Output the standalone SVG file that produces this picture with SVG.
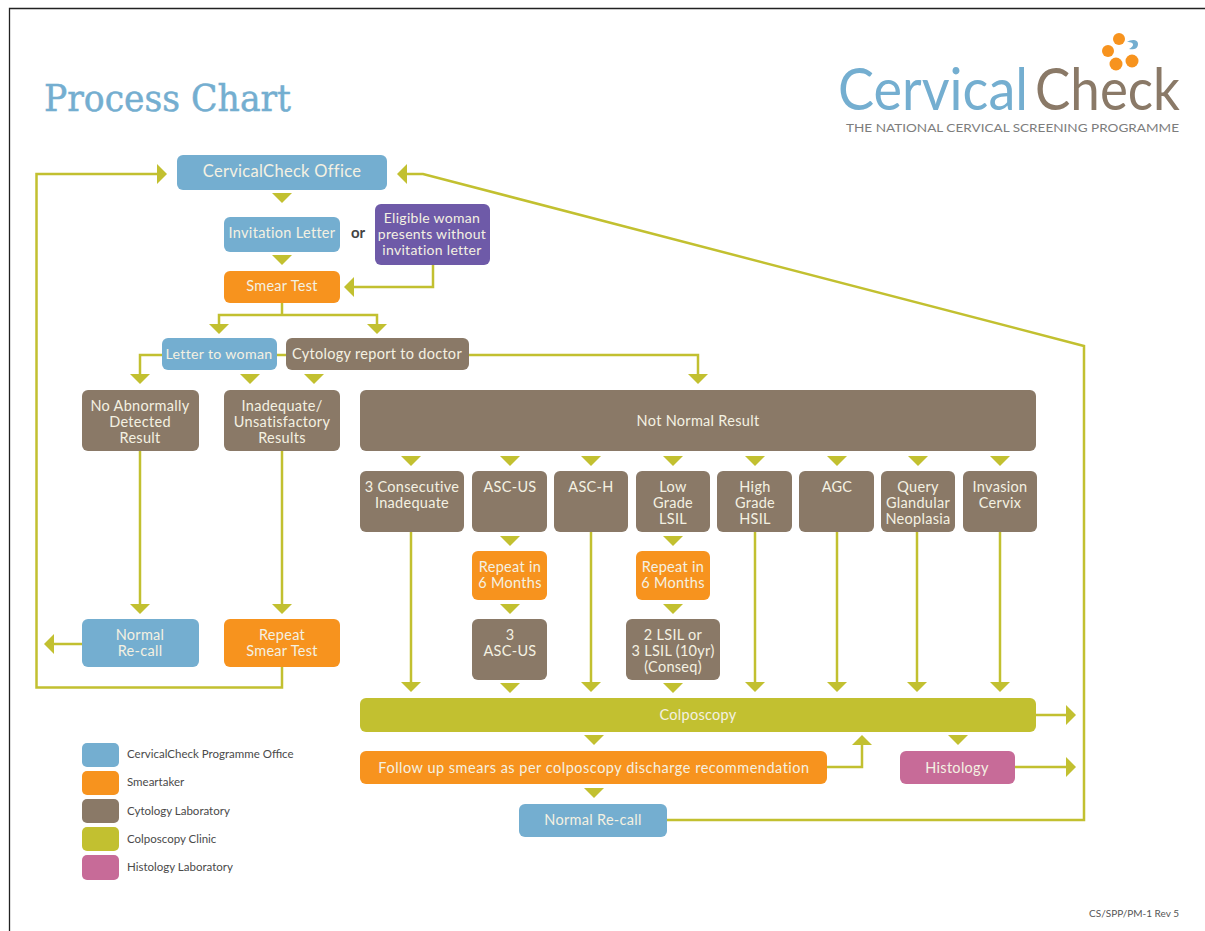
<svg xmlns="http://www.w3.org/2000/svg" width="1205" height="931" viewBox="0 0 1205 931">
<style>
text{font-family:Lato,"Open Sans","Liberation Sans",sans-serif}
.n text{fill:#f4f1e2;font-size:14.500px;text-anchor:middle;letter-spacing:.3px}
.blue{fill:#74aed0}.org{fill:#f7931e}.brn{fill:#8a7967}.grn{fill:#c2c030}.pnk{fill:#c76b98}.pur{fill:#6e5aa8}
.c{fill:none;stroke:#c2c030;stroke-width:2.5}
.h{fill:#c2c030}
.lg{font-size:11.500px;fill:#4a4a4a}
</style>
<defs>
<path id="t" class="h" d="M-10 0H10L0 10Z"/>
<marker id="a" markerUnits="userSpaceOnUse" markerWidth="10" markerHeight="20" refX="6" refY="10" orient="auto" viewBox="0 0 10 20"><path class="h" d="M0 0L10 10L0 20Z"/></marker>
</defs>
<rect width="1205" height="931" fill="#fff"/>
<path d="M9.500 931V8.500H1205" fill="none" stroke="#222" stroke-width="1.300"/>
<g id="header">
<text x="44" y="111" font-size="37" fill="#74aed0" stroke="#74aed0" stroke-width=".5" textLength="247" lengthAdjust="spacingAndGlyphs" style="font-family:'DejaVu Serif','Liberation Serif',serif">Process Chart</text>
</g>
<g id="logo">
<text x="838" y="110" font-size="58" fill="#74aed0" textLength="190" lengthAdjust="spacingAndGlyphs">Cervical</text>
<text x="1035" y="110" font-size="58" fill="#8a7967" textLength="145" lengthAdjust="spacingAndGlyphs">Check</text>
<text x="846" y="132" font-size="11.500" fill="#7d7d7d" textLength="333" lengthAdjust="spacingAndGlyphs">THE NATIONAL CERVICAL SCREENING PROGRAMME</text>
<g fill="#f7931e"><circle cx="1119" cy="39" r="6"/><circle cx="1108" cy="51" r="6"/><circle cx="1116" cy="64" r="6.500"/><circle cx="1132" cy="61" r="6.500"/></g>
<path d="M1127 42C1131 39 1138 39 1138 44C1138 49 1133 50 1129 49C1133 47 1134 44 1132 43C1131 42 1129 42 1127 42Z" fill="#74aed0"/>
</g>
<g id="connectors">
<path class="c" marker-end="url(#a)" d="M282 667V687.500H36.500V174H163"/>
<path class="c" marker-end="url(#a)" d="M667 820H1084V346L423 174H401"/>
<path class="c" marker-end="url(#a)" d="M82 644H48"/>
<path class="c" marker-end="url(#a)" d="M433 265V287H348"/>
<path class="c" d="M282 303V315"/>
<path class="c" marker-end="url(#a)" d="M282 315H219V330"/>
<path class="c" marker-end="url(#a)" d="M282 315H377V330"/>
<path class="c" marker-end="url(#a)" d="M162 355H140V380"/>
<path class="c" d="M277 355H286"/>
<path class="c" marker-end="url(#a)" d="M469 355H698V380"/>
<path class="c" marker-end="url(#a)" d="M140 451V610"/>
<path class="c" marker-end="url(#a)" d="M282 451V610"/>
<path class="c" marker-end="url(#a)" d="M411 532V688"/>
<path class="c" marker-end="url(#a)" d="M591 532V688"/>
<path class="c" marker-end="url(#a)" d="M755 532V688"/>
<path class="c" marker-end="url(#a)" d="M837 532V688"/>
<path class="c" marker-end="url(#a)" d="M917 532V688"/>
<path class="c" marker-end="url(#a)" d="M1000 532V688"/>
<path class="c" marker-end="url(#a)" d="M1036 715H1072"/>
<path class="c" marker-end="url(#a)" d="M1015 767H1072"/>
<path class="c" marker-end="url(#a)" d="M827 767H862V739"/>
<use href="#t" x="282" y="193"/><use href="#t" x="282" y="255"/>
<use href="#t" x="250" y="374"/><use href="#t" x="314" y="374"/>
<use href="#t" x="411" y="456"/><use href="#t" x="510" y="456"/><use href="#t" x="591" y="456"/><use href="#t" x="673" y="456"/><use href="#t" x="755" y="456"/><use href="#t" x="837" y="456"/><use href="#t" x="918" y="456"/><use href="#t" x="1000" y="456"/>
<use href="#t" x="510" y="536"/><use href="#t" x="510" y="604"/><use href="#t" x="510" y="683"/>
<use href="#t" x="673" y="536"/><use href="#t" x="673" y="604"/><use href="#t" x="673" y="683"/>
<use href="#t" x="594" y="735"/><use href="#t" x="594" y="788"/><use href="#t" x="958" y="735"/>
</g>
<g class="n" id="office"><rect class="blue" x="177" y="155" width="210" height="35" rx="6"/><text x="282" y="177" style="font-size:16.500px">CervicalCheck Office</text></g>
<g class="n" id="invitation"><rect class="blue" x="224" y="217" width="116" height="35" rx="6"/><text x="282" y="238">Invitation Letter</text></g>
<g id="or"><text x="358" y="238" font-size="15" font-weight="700" fill="#444" text-anchor="middle">or</text></g>
<g class="n" id="eligible"><rect class="pur" x="375" y="204" width="115" height="61" rx="6"/><text x="432" y="223" style="font-size:14px">Eligible woman</text><text x="432" y="239" style="font-size:14px">presents without</text><text x="432" y="255" style="font-size:14px">invitation letter</text></g>
<g class="n" id="smear"><rect class="org" x="224" y="271" width="116" height="32" rx="6"/><text x="282" y="291">Smear Test</text></g>
<g class="n" id="letter"><rect class="blue" x="162" y="338" width="115" height="32" rx="6"/><text x="219" y="359" style="font-size:14.200px">Letter to woman</text></g>
<g class="n" id="cytology"><rect class="brn" x="286" y="338" width="183" height="32" rx="6"/><text x="377" y="359" style="font-size:14.500px">Cytology report to doctor</text></g>
<g class="n" id="noabn"><rect class="brn" x="82" y="390" width="117" height="61" rx="6"/><text x="140" y="411">No Abnormally</text><text x="140" y="427">Detected</text><text x="140" y="443">Result</text></g>
<g class="n" id="inadequate"><rect class="brn" x="224" y="390" width="116" height="61" rx="6"/><text x="282" y="411">Inadequate/</text><text x="282" y="427">Unsatisfactory</text><text x="282" y="443">Results</text></g>
<g class="n" id="notnormal"><rect class="brn" x="360" y="390" width="676" height="61" rx="6"/><text x="698" y="426" style="font-size:14.500px">Not Normal Result</text></g>
<g class="n" id="consec"><rect class="brn" x="360" y="471" width="104" height="61" rx="6"/><text x="412" y="492">3 Consecutive</text><text x="412" y="508">Inadequate</text></g>
<g class="n" id="ascus"><rect class="brn" x="472" y="471" width="75" height="61" rx="6"/><text x="510" y="492">ASC-US</text></g>
<g class="n" id="asch"><rect class="brn" x="554" y="471" width="74" height="61" rx="6"/><text x="591" y="492">ASC-H</text></g>
<g class="n" id="low"><rect class="brn" x="636" y="471" width="74" height="61" rx="6"/><text x="673" y="492">Low</text><text x="673" y="508">Grade</text><text x="673" y="524">LSIL</text></g>
<g class="n" id="high"><rect class="brn" x="717" y="471" width="75" height="61" rx="6"/><text x="755" y="492">High</text><text x="755" y="508">Grade</text><text x="755" y="524">HSIL</text></g>
<g class="n" id="agc"><rect class="brn" x="799" y="471" width="75" height="61" rx="6"/><text x="837" y="492">AGC</text></g>
<g class="n" id="query"><rect class="brn" x="881" y="471" width="74" height="61" rx="6"/><text x="918" y="492">Query</text><text x="918" y="508">Glandular</text><text x="918" y="524">Neoplasia</text></g>
<g class="n" id="invasion"><rect class="brn" x="963" y="471" width="74" height="61" rx="6"/><text x="1000" y="492">Invasion</text><text x="1000" y="508">Cervix</text></g>
<g class="n" id="repeat1"><rect class="org" x="472" y="551" width="75" height="49" rx="6"/><text x="510" y="572">Repeat in</text><text x="510" y="588">6 Months</text></g>
<g class="n" id="repeat2"><rect class="org" x="636" y="551" width="74" height="49" rx="6"/><text x="673" y="572">Repeat in</text><text x="673" y="588">6 Months</text></g>
<g class="n" id="asc3"><rect class="brn" x="472" y="619" width="75" height="61" rx="6"/><text x="510" y="640">3</text><text x="510" y="656">ASC-US</text></g>
<g class="n" id="lsil2"><rect class="brn" x="626" y="619" width="94" height="61" rx="6"/><text x="673" y="640">2 LSIL or</text><text x="673" y="656">3 LSIL (10yr)</text><text x="673" y="672">(Conseq)</text></g>
<g class="n" id="recall1"><rect class="blue" x="82" y="619" width="117" height="48" rx="6"/><text x="140" y="640">Normal</text><text x="140" y="656">Re-call</text></g>
<g class="n" id="repeatsmear"><rect class="org" x="224" y="619" width="116" height="48" rx="6"/><text x="282" y="640">Repeat</text><text x="282" y="656">Smear Test</text></g>
<g class="n" id="colposcopy"><rect class="grn" x="360" y="698" width="676" height="34" rx="6"/><text x="698" y="720">Colposcopy</text></g>
<g class="n" id="followup"><rect class="org" x="360" y="751" width="467" height="33" rx="6"/><text x="594" y="773" style="letter-spacing:.5px">Follow up smears as per colposcopy discharge recommendation</text></g>
<g class="n" id="histology"><rect class="pnk" x="900" y="751" width="115" height="33" rx="6"/><text x="957" y="773">Histology</text></g>
<g class="n" id="recall2"><rect class="blue" x="519" y="804" width="148" height="33" rx="6"/><text x="593" y="825">Normal Re-call</text></g>
<g id="legend">
<rect class="blue" x="82" y="743" width="37" height="24" rx="5"/><text class="lg" x="127" y="758">CervicalCheck Programme Office</text>
<rect class="org" x="82" y="771" width="37" height="24" rx="5"/><text class="lg" x="127" y="786">Smeartaker</text>
<rect class="brn" x="82" y="799" width="37" height="24" rx="5"/><text class="lg" x="127" y="815">Cytology Laboratory</text>
<rect class="grn" x="82" y="827" width="37" height="24" rx="5"/><text class="lg" x="127" y="843">Colposcopy Clinic</text>
<rect class="pnk" x="82" y="855" width="37" height="25" rx="5"/><text class="lg" x="127" y="871">Histology Laboratory</text>
</g>
<text x="1179" y="917" font-size="10" fill="#555" text-anchor="end">CS/SPP/PM-1 Rev 5</text>
</svg>
